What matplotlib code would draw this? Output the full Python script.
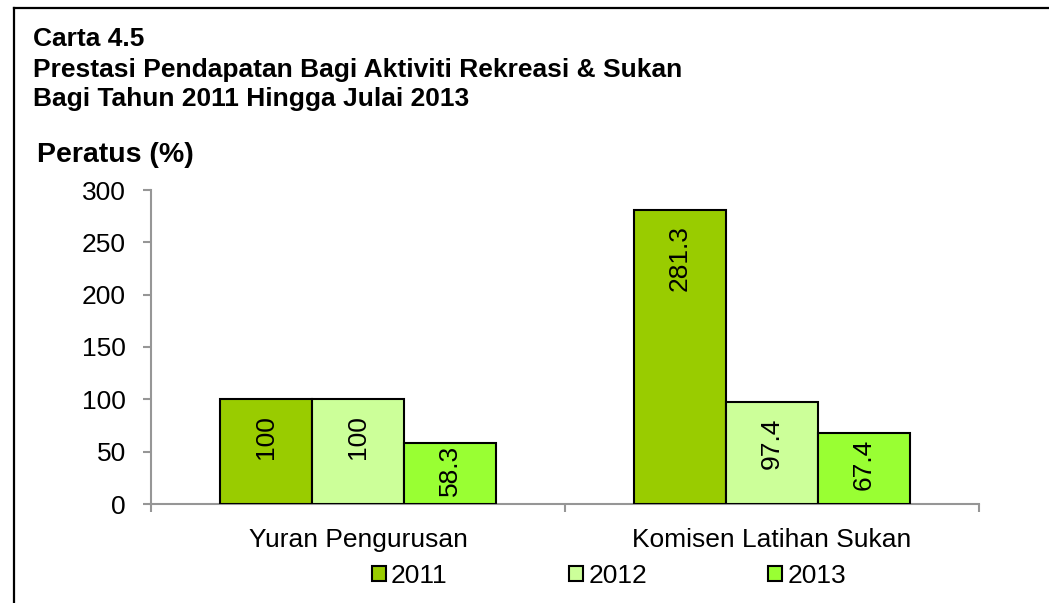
import matplotlib
matplotlib.use("Agg")
import matplotlib.pyplot as plt
import numpy as np
from matplotlib.patches import Patch
from matplotlib.lines import Line2D

categories = ["Yuran Pengurusan", "Komisen Latihan Sukan"]
series_names = ["2011", "2012", "2013"]
v2011 = [100, 281.3]
v2012 = [100, 97.4]
v2013 = [58.3, 67.4]
yticks = [0, 50, 100, 150, 200, 250, 300]
colors = ["#99CC00", "#CCFF99", "#99FF33"]

plt.rcParams['font.family'] = ['Liberation Sans', 'DejaVu Sans']

W, H = 1049, 603
fig = plt.figure(figsize=(W/100, H/100), dpi=100)
ax = fig.add_axes([151/W, 1-504/H, (979-151)/W, (504-190)/H])

x = np.arange(len(categories))
bw = 92/414
series = [v2011, v2012, v2013]
fs = 19
px_per_unit = 314/300
for i, (vals, col) in enumerate(zip(series, colors)):
    xs = x + (i-1)*bw
    ax.bar(xs, vals, width=bw, color=col, edgecolor='black', linewidth=1.5, zorder=3)
    for xi, v in zip(xs, vals):
        lab = f"{v:g}"
        tl = len(lab.replace('.', '')) * 14.7 + (7.3 if '.' in lab else 0)
        hpx = v*px_per_unit
        off = min(16, max(2, (hpx - tl)/2 - 4))
        ax.text(xi, v - off/px_per_unit, lab, rotation=90, ha='center', va='top',
                fontsize=fs, color='black', zorder=4)

ax.set_xlim(-0.5, 1.5)
ax.set_ylim(0, 300)
ax.set_yticks(yticks)
ax.set_yticklabels([str(t) for t in yticks], fontsize=fs)
ax.set_xticks(x)
ax.set_xticklabels(categories, fontsize=fs)
ax.set_xticks([-0.5, 0.5, 1.5], minor=True)
ax.tick_params(axis='x', which='major', length=0, pad=17)
ax.tick_params(axis='x', which='minor', length=6, width=1.5, color='#969696', direction='out')
ax.tick_params(axis='y', length=6, width=1.5, color='#969696', pad=12)
for s in ['top', 'right']:
    ax.spines[s].set_visible(False)
for s in ['left', 'bottom']:
    ax.spines[s].set_color('#969696')
    ax.spines[s].set_linewidth(1.5)

# Titles
tfs = 19
fig.text(33/W, 1-46/H, "Carta 4.5", fontsize=tfs, fontweight='bold', ha='left', va='baseline')
fig.text(33/W, 1-77/H, "Prestasi Pendapatan Bagi Aktiviti Rekreasi & Sukan", fontsize=tfs,
         fontweight='bold', ha='left', va='baseline')
fig.text(33/W, 1-106/H, "Bagi Tahun 2011 Hingga Julai 2013", fontsize=tfs,
         fontweight='bold', ha='left', va='baseline')
fig.text(37/W, 1-162/H, "Peratus (%)", fontsize=20.5, fontweight='bold', ha='left', va='baseline')

# Legend
handles = [Patch(facecolor=c, edgecolor='black', linewidth=1.5) for c in colors]
leg = fig.legend(handles, series_names, loc='center', bbox_to_anchor=(609/W, 1-576/H),
                 ncol=3, frameon=False, fontsize=fs, handlelength=0.53, handleheight=0.53,
                 handletextpad=0.19, columnspacing=4.6, borderaxespad=0, borderpad=0)

# Outer frame (top and left)
fig.add_artist(Line2D([14/W, 1.0], [1-8/H, 1-8/H], color='black', linewidth=1.6))
fig.add_artist(Line2D([14/W, 14/W], [1-8/H, 0.0], color='black', linewidth=1.6))

fig.savefig("out.png", dpi=100)
